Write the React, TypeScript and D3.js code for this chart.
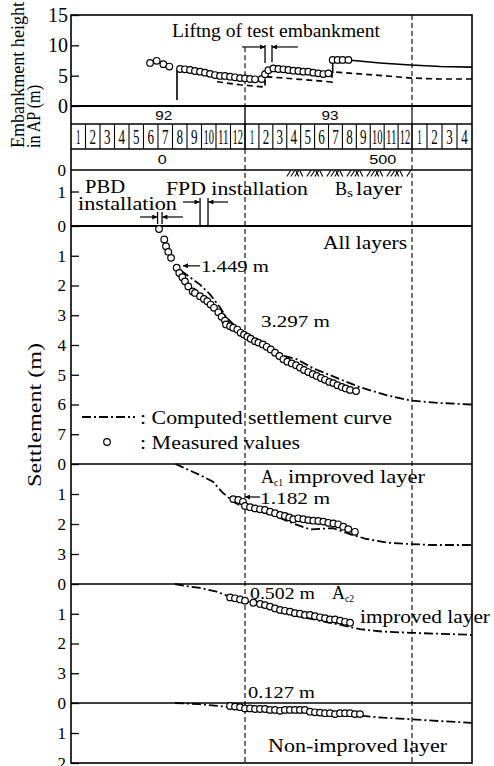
import { useRef, useEffect } from 'react'
import * as d3 from 'd3'

// months counted from 1 Jan 1992 (0) ; heights in m AP ; settlements in m
const embankMeasured: [number, number][] = [
  [5.45, 7.1], [5.91, 7.45], [6.37, 6.9], [6.78, 6.5], [7.52, 6.1], [7.86, 6.05], [8.21, 5.93],
  [8.55, 5.77], [8.9, 5.66], [9.24, 5.5], [9.59, 5.3], [9.93, 5.1], [10.28, 4.95], [10.62, 4.95],
  [10.97, 4.83], [11.31, 4.73], [11.66, 4.6], [12.0, 4.56], [12.36, 4.45], [12.72, 4.4], [13.2, 4.45],
  [13.44, 5.25], [13.68, 5.9], [14.04, 6.2], [14.4, 6.1], [14.76, 6.05], [15.12, 5.93], [15.48, 5.82],
  [15.84, 5.77], [16.19, 5.66], [16.55, 5.66], [16.91, 5.5], [17.27, 5.38], [17.63, 5.27], [17.99, 5.38],
  [18.3, 7.6], [18.66, 7.6], [19.02, 7.6], [19.43, 7.6]
]
const embankPlanned: [number, number][] = [
  [18.3, 5.4], [18.3, 7.6], [19.5, 7.55], [20.0, 7.45], [21.7, 7.1], [23.9, 6.75], [25.9, 6.5], [28, 6.4]
]
const groundSurface: [number, number][] = [
  [10.07, 4.0], [11.66, 3.5], [13.44, 3.1], [13.44, 4.8], [13.65, 4.8], [15.95, 4.4], [18.25, 3.96],
  [18.25, 5.6], [18.47, 5.6], [20.26, 5.3], [22.42, 4.9], [24, 4.6], [25.87, 4.45], [28, 4.45]
]

const allMeasured: [number, number][] = [
  [6.07, 0.1], [6.43, 0.45], [6.55, 0.68], [6.71, 0.87], [6.9, 1.07], [7.29, 1.4], [7.47, 1.58],
  [7.68, 1.72], [7.86, 1.86], [8.09, 2.03], [8.39, 2.2], [8.55, 2.25], [8.9, 2.36], [9.17, 2.45],
  [9.4, 2.53], [9.63, 2.64], [9.86, 2.75], [10.16, 2.9], [10.39, 3.05], [10.62, 3.18], [10.69, 3.31],
  [10.97, 3.37], [11.19, 3.42], [11.47, 3.48], [11.7, 3.59], [11.93, 3.65], [12.17, 3.72], [12.41, 3.79],
  [12.72, 3.87], [12.96, 3.92], [13.28, 3.98], [13.56, 4.06], [13.85, 4.15], [14.16, 4.26], [14.47, 4.37],
  [14.76, 4.48], [15.04, 4.56], [15.36, 4.62], [15.67, 4.68], [15.95, 4.76], [16.24, 4.84], [16.55, 4.91],
  [16.87, 4.98], [17.15, 5.04], [17.46, 5.11], [17.75, 5.17], [18.06, 5.24], [18.35, 5.28], [18.64, 5.35],
  [18.96, 5.41], [19.24, 5.46], [19.55, 5.51], [19.98, 5.55]
]
const allComputed: [number, number][] = [
  [7.59, 1.5], [8.55, 1.85], [8.9, 1.97], [9.59, 2.3], [10.28, 2.74], [10.69, 3.05], [11.66, 3.55],
  [13.08, 3.95], [14.3, 4.31], [15.74, 4.48], [16.88, 4.78], [18.83, 5.15], [20.26, 5.42], [22.2, 5.69],
  [23.93, 5.87], [25.87, 5.95], [28, 6.0]
]

const ac1Measured: [number, number][] = [
  [11.19, 1.17], [11.54, 1.2], [11.86, 1.26], [12.0, 1.4], [12.36, 1.44], [12.72, 1.48], [13.08, 1.51],
  [13.44, 1.53], [13.8, 1.59], [14.16, 1.64], [14.52, 1.7], [14.87, 1.73], [15.18, 1.78], [15.47, 1.84],
  [15.83, 1.81], [16.19, 1.84], [16.55, 1.87], [16.91, 1.89], [17.27, 1.9], [17.63, 1.92], [17.99, 1.96],
  [18.35, 1.98], [18.7, 2.01], [19.06, 2.09], [19.42, 2.17], [19.9, 2.26]
]
const ac1Computed: [number, number][] = [
  [7.2, 0], [8.9, 0.37], [9.79, 0.59], [10.39, 0.92], [11.19, 1.26], [12.12, 1.48], [14.01, 1.7],
  [15.45, 1.98], [16.67, 2.18], [18.32, 2.14], [19.76, 2.37], [20.74, 2.5], [22.18, 2.62], [23.92, 2.67],
  [25.4, 2.7], [28, 2.7]
]

const ac2Measured: [number, number][] = [
  [10.97, 0.45], [11.31, 0.48], [11.66, 0.52], [12.0, 0.56], [12.6, 0.63], [13.08, 0.67], [13.44, 0.71],
  [13.8, 0.76], [14.16, 0.82], [14.52, 0.87], [14.87, 0.9], [15.23, 0.93], [15.59, 0.98], [15.95, 1.0],
  [16.31, 1.04], [16.67, 1.04], [17.03, 1.08], [17.39, 1.12], [17.75, 1.15], [18.11, 1.19], [18.47, 1.19],
  [18.83, 1.23], [19.19, 1.27], [19.55, 1.3]
]
const ac2Computed: [number, number][] = [
  [7.17, 0], [8.21, 0.09], [8.9, 0.13], [10.05, 0.26], [10.97, 0.43], [12.24, 0.59], [13.56, 0.82],
  [15.95, 1.1], [18.32, 1.32], [20.26, 1.52], [21.92, 1.6], [23.93, 1.64], [28, 1.71]
]

const nonMeasured: [number, number][] = [
  [10.97, 0.1], [11.31, 0.12], [11.66, 0.14], [12.0, 0.18], [12.36, 0.18], [12.72, 0.2], [13.08, 0.2],
  [13.44, 0.2], [13.8, 0.23], [14.16, 0.23], [14.52, 0.26], [14.87, 0.23], [15.23, 0.23], [15.59, 0.23],
  [15.95, 0.23], [16.31, 0.23], [16.67, 0.29], [17.03, 0.31], [17.39, 0.32], [17.75, 0.34], [18.11, 0.34],
  [18.47, 0.37], [18.83, 0.34], [19.19, 0.34], [19.55, 0.34], [19.9, 0.37], [20.26, 0.37]
]
const nonComputed: [number, number][] = [
  [7.17, 0], [8.9, 0.04], [10.97, 0.14], [12.22, 0.2], [14.73, 0.29], [18.32, 0.37], [20.47, 0.43],
  [21.92, 0.49], [23.93, 0.54], [25.4, 0.59], [28, 0.66]
]

const monthLabels = [1, 2, 3, 4, 5, 6, 7, 8, 9, 10, 11, 12, 1, 2, 3, 4, 5, 6, 7, 8, 9, 10, 11, 12, 1, 2, 3, 4]
const yearLabels = ['92', '93']
const yearLabelAt = [6.4, 18.1]
const dayLabels = ['0', '500']
const dayLabelAt = [6.3, 21.9]
const embankTicks = [0, 5, 10, 15]
const allTicks = [0, 1, 2, 3, 4, 5, 6, 7]
const ac1Ticks = [0, 1, 2, 3]
const ac2Ticks = [0, 1, 2, 3]
const nonTicks = [0, 1, 2]
const bsLayerSpan = [15.0, 23.7]
const loadingMark = 7.31 // solid marker in top panel

const serif = '"Liberation Serif", "Times New Roman", serif'
const sans = '"Liberation Sans", Arial, sans-serif'

const App = () => {
  const ref = useRef<SVGSVGElement>(null)

  useEffect(() => {
    const svg = d3.select(ref.current)
    svg.selectAll('*').remove()

    const L = 71, R = 472, T = 15, B = 763

    // SCALES
    const x = d3.scaleLinear().domain([0, 12, 24, 28]).range([71, 245, 412, 472])
    const yEmb = d3.scaleLinear().domain([0, 15]).range([106, 15])
    const yAll = d3.scaleLinear().domain([0, 8]).range([226, 464])
    const yAc1 = d3.scaleLinear().domain([0, 4]).range([464, 584])
    const yAc2 = d3.scaleLinear().domain([0, 4]).range([584, 703])
    const yNon = d3.scaleLinear().domain([0, 2]).range([703, 763])

    const defs = svg.append('defs')
    defs.append('marker')
      .attr('id', 'ah').attr('viewBox', '0 0 10 10').attr('refX', 10).attr('refY', 5)
      .attr('markerWidth', 6).attr('markerHeight', 5).attr('markerUnits', 'userSpaceOnUse')
      .attr('orient', 'auto')
      .append('path').attr('d', 'M0,0L10,5L0,10Z').attr('fill', '#000')

    const g = svg.append('g')

    const text = (str: string, tx: number, ty: number, size: number, len?: number, family = serif) => {
      const t = g.append('text').attr('x', tx).attr('y', ty).attr('font-size', size)
        .attr('font-family', family).attr('fill', '#000').text(str)
      if (len) t.attr('textLength', len).attr('lengthAdjust', 'spacingAndGlyphs')
      return t
    }
    const hline = (yy: number, w = 1.5) => g.append('line').attr('x1', L).attr('x2', R)
      .attr('y1', yy).attr('y2', yy).attr('stroke', '#000').attr('stroke-width', w)
    const vline = (xx: number, y1: number, y2: number, w = 1.3, dash?: string) => {
      const l = g.append('line').attr('x1', xx).attr('x2', xx).attr('y1', y1).attr('y2', y2)
        .attr('stroke', '#000').attr('stroke-width', w)
      if (dash) l.attr('stroke-dasharray', dash)
      return l
    }
    const arrow = (x1: number, x2: number, yy: number) => g.append('line')
      .attr('x1', x1).attr('x2', x2).attr('y1', yy).attr('y2', yy)
      .attr('stroke', '#000').attr('stroke-width', 1.2).attr('marker-end', 'url(#ah)')

    // FRAME AND BANDS
    g.append('rect').attr('x', L).attr('y', T).attr('width', R - L).attr('height', B - T)
      .attr('fill', 'none').attr('stroke', '#000').attr('stroke-width', 1.6)
    ;[106, 124, 149, 170, 226, 464, 584, 703].forEach(yy => hline(yy, yy === 106 || yy === 226 ? 1.8 : 1.5))

    // year row separators, month cells
    vline(x(12), 106, 149, 1.4)
    vline(x(24), 106, 149, 1.2)
    d3.range(1, 28).forEach(i => vline(x(i), 124, 149, 1.1))
    monthLabels.forEach((m, i) => {
      text(String(m), x(i + 0.5), 144, 20, m > 9 ? 10.5 : (m === 1 ? 4.5 : 6.5))
        .attr('text-anchor', 'middle')
    })
    yearLabels.forEach((s, i) => text(s, x(yearLabelAt[i]), 120, 12, 17, sans).attr('text-anchor', 'middle'))
    dayLabels.forEach((s, i) => text(s, x(dayLabelAt[i]), 164, 12, s.length > 1 ? 27 : 9, sans).attr('text-anchor', 'middle'))

    // dashed year lines
    vline(x(12), yEmb(9.7), 106, 1.1, '5,3')
    vline(x(24), T, 106, 1.1, '5,3')
    vline(x(12), 149, B, 1.1, '5,3')
    vline(x(24), 149, B, 1.1, '5,3')

    // AXES
    const drawAxis = (scale: d3.ScaleLinear<number, number>, ticks: number[], size: number, pad: number) => {
      const a = g.append('g').attr('transform', `translate(${L},0)`)
        .call(d3.axisLeft(scale).tickValues(ticks).tickSize(-8).tickPadding(pad).tickFormat(d3.format('d')))
      a.select('.domain').remove()
      a.attr('font-family', serif).attr('font-size', size)
      a.selectAll('line').attr('stroke-width', 1.3)
      a.selectAll('text').attr('fill', '#000')
    }
    drawAxis(yEmb, embankTicks, 20, 3)
    drawAxis(yAll, allTicks, 17, 5)
    drawAxis(yAc1, ac1Ticks, 17, 5)
    drawAxis(yAc2, ac2Ticks, 17, 5)
    drawAxis(yNon, nonTicks, 17, 5)
    // installation band labels
    text('0', 66, 176, 17).attr('text-anchor', 'end')
    text('1', 66, 198, 17).attr('text-anchor', 'end')
    g.append('line').attr('x1', L).attr('x2', L + 8).attr('y1', 192).attr('y2', 192)
      .attr('stroke', '#000').attr('stroke-width', 1.3)

    // AXIS TITLES
    text('Embankment height', 0, 0, 18, 146).attr('transform', 'translate(24,148) rotate(-90)')
    text('in AP  (m)', 0, 0, 18, 63).attr('transform', 'translate(40,148) rotate(-90)')
    text('Settlement  (m)', 0, 0, 18, 144).attr('transform', 'translate(41,487) rotate(-90)')

    // LINES
    const line = (y: d3.ScaleLinear<number, number>) => d3.line<[number, number]>()
      .x(d => x(d[0])).y(d => y(d[1]))
    const computed = (data: [number, number][], y: d3.ScaleLinear<number, number>) =>
      g.append('path').datum(data).attr('d', line(y)).attr('fill', 'none').attr('stroke', '#000')
        .attr('stroke-width', 1.8).attr('stroke-dasharray', '9,3,2,3')

    g.append('path').datum(groundSurface).attr('d', line(yEmb)).attr('fill', 'none')
      .attr('stroke', '#000').attr('stroke-width', 1.7).attr('stroke-dasharray', '6,4')
    g.append('path').datum(embankPlanned).attr('d', line(yEmb)).attr('fill', 'none')
      .attr('stroke', '#000').attr('stroke-width', 1.6)
    vline(x(loadingMark), yEmb(6.1), yEmb(1.0), 1.6)

    computed(allComputed, yAll)
    computed(ac1Computed, yAc1)
    computed(ac2Computed, yAc2)
    computed(nonComputed, yNon)

    // MEASURED POINTS
    const dots = (data: [number, number][], y: d3.ScaleLinear<number, number>) =>
      g.append('g').selectAll('circle').data(data).enter().append('circle')
        .attr('cx', d => x(d[0])).attr('cy', d => y(d[1])).attr('r', 3.3)
        .attr('fill', '#fff').attr('stroke', '#000').attr('stroke-width', 1.2)
    dots(embankMeasured, yEmb)
    dots(allMeasured, yAll)
    dots(ac1Measured, yAc1)
    dots(ac2Measured, yAc2)
    dots(nonMeasured, yNon)

    // LIFTING ANNOTATION
    text('Liftng of test embankment', 172, 37, 19, 208)
    arrow(x(11.8), x(13.44), yEmb(9.73))
    arrow(x(15.8), x(13.94), yEmb(9.73))
    vline(x(13.44), yEmb(10.05), yEmb(7.1), 1.3)
    vline(x(13.94), yEmb(10.05), yEmb(7.2), 1.3)

    // INSTALLATION BAND
    text('PBD', 85, 193, 18, 40)
    text('installation', 78, 210, 18, 99)
    arrow(x(4.76), x(5.95), 217)
    vline(x(5.97), 212, 224, 1.3)
    vline(x(6.28), 212, 224, 1.3)
    arrow(x(7.72), x(6.3), 217)
    text('FPD installation', 166, 195, 18, 142)
    arrow(x(7.72), x(8.86), 202)
    vline(x(8.9), 198, 225, 1.3)
    vline(x(9.45), 198, 225, 1.3)
    arrow(x(10.83), x(9.48), 202)
    text('B', 335, 195, 19, 12)
    text('s', 347, 197, 13, 6)
    text('layer', 356, 195, 19, 46)
    // Bs hatch
    const hatchX = d3.range(x(bsLayerSpan[0]), x(bsLayerSpan[1]), 4)
    g.append('g').selectAll('line').data(hatchX).enter().append('line')
      .attr('x1', d => d).attr('y1', 176.5)
      .attr('x2', (d, i) => (i % 5 < 3 ? d + 4 : d - 3)).attr('y2', 170.5)
      .attr('stroke', '#000').attr('stroke-width', 1.1)

    // PANEL LABELS
    text('All layers', 323, 249, 18, 84)
    text('1.449 m', 201, 272, 16, 68)
    arrow(x(8.9), x(7.72), yAll(1.34))
    text('3.297 m', 261, 327, 16, 69)

    // LEGEND
    g.append('line').attr('x1', 82).attr('x2', 135).attr('y1', 417).attr('y2', 417)
      .attr('stroke', '#000').attr('stroke-width', 1.8).attr('stroke-dasharray', '9,3,2,3')
    text(': Computed settlement curve', 140, 424, 18, 252)
    g.append('circle').attr('cx', 107).attr('cy', 442).attr('r', 3.3)
      .attr('fill', '#fff').attr('stroke', '#000').attr('stroke-width', 1.2)
    text(': Measured values', 140, 449, 18, 160)

    text('A', 261, 483, 19, 13)
    text('c1', 274, 486, 11, 9)
    text('improved layer', 288, 483, 19, 137)
    text('1.182 m', 260, 504, 16, 70)
    arrow(x(13.08), x(12.0), yAc1(1.1))

    text('0.502 m', 250, 599, 16, 65)
    text('A', 332, 599, 19, 13)
    text('c2', 345, 602, 11, 9)
    text('improved layer', 360, 623, 19, 130)

    text('0.127 m', 248, 698, 16, 67)
    text('Non-improved layer', 268, 752, 19, 179)
  }, [])

  return (
    <svg ref={ref} width={494} height={766}
      style={{ position: 'absolute', left: 0, top: 0, background: '#fff' }} />
  )
}

export default App
